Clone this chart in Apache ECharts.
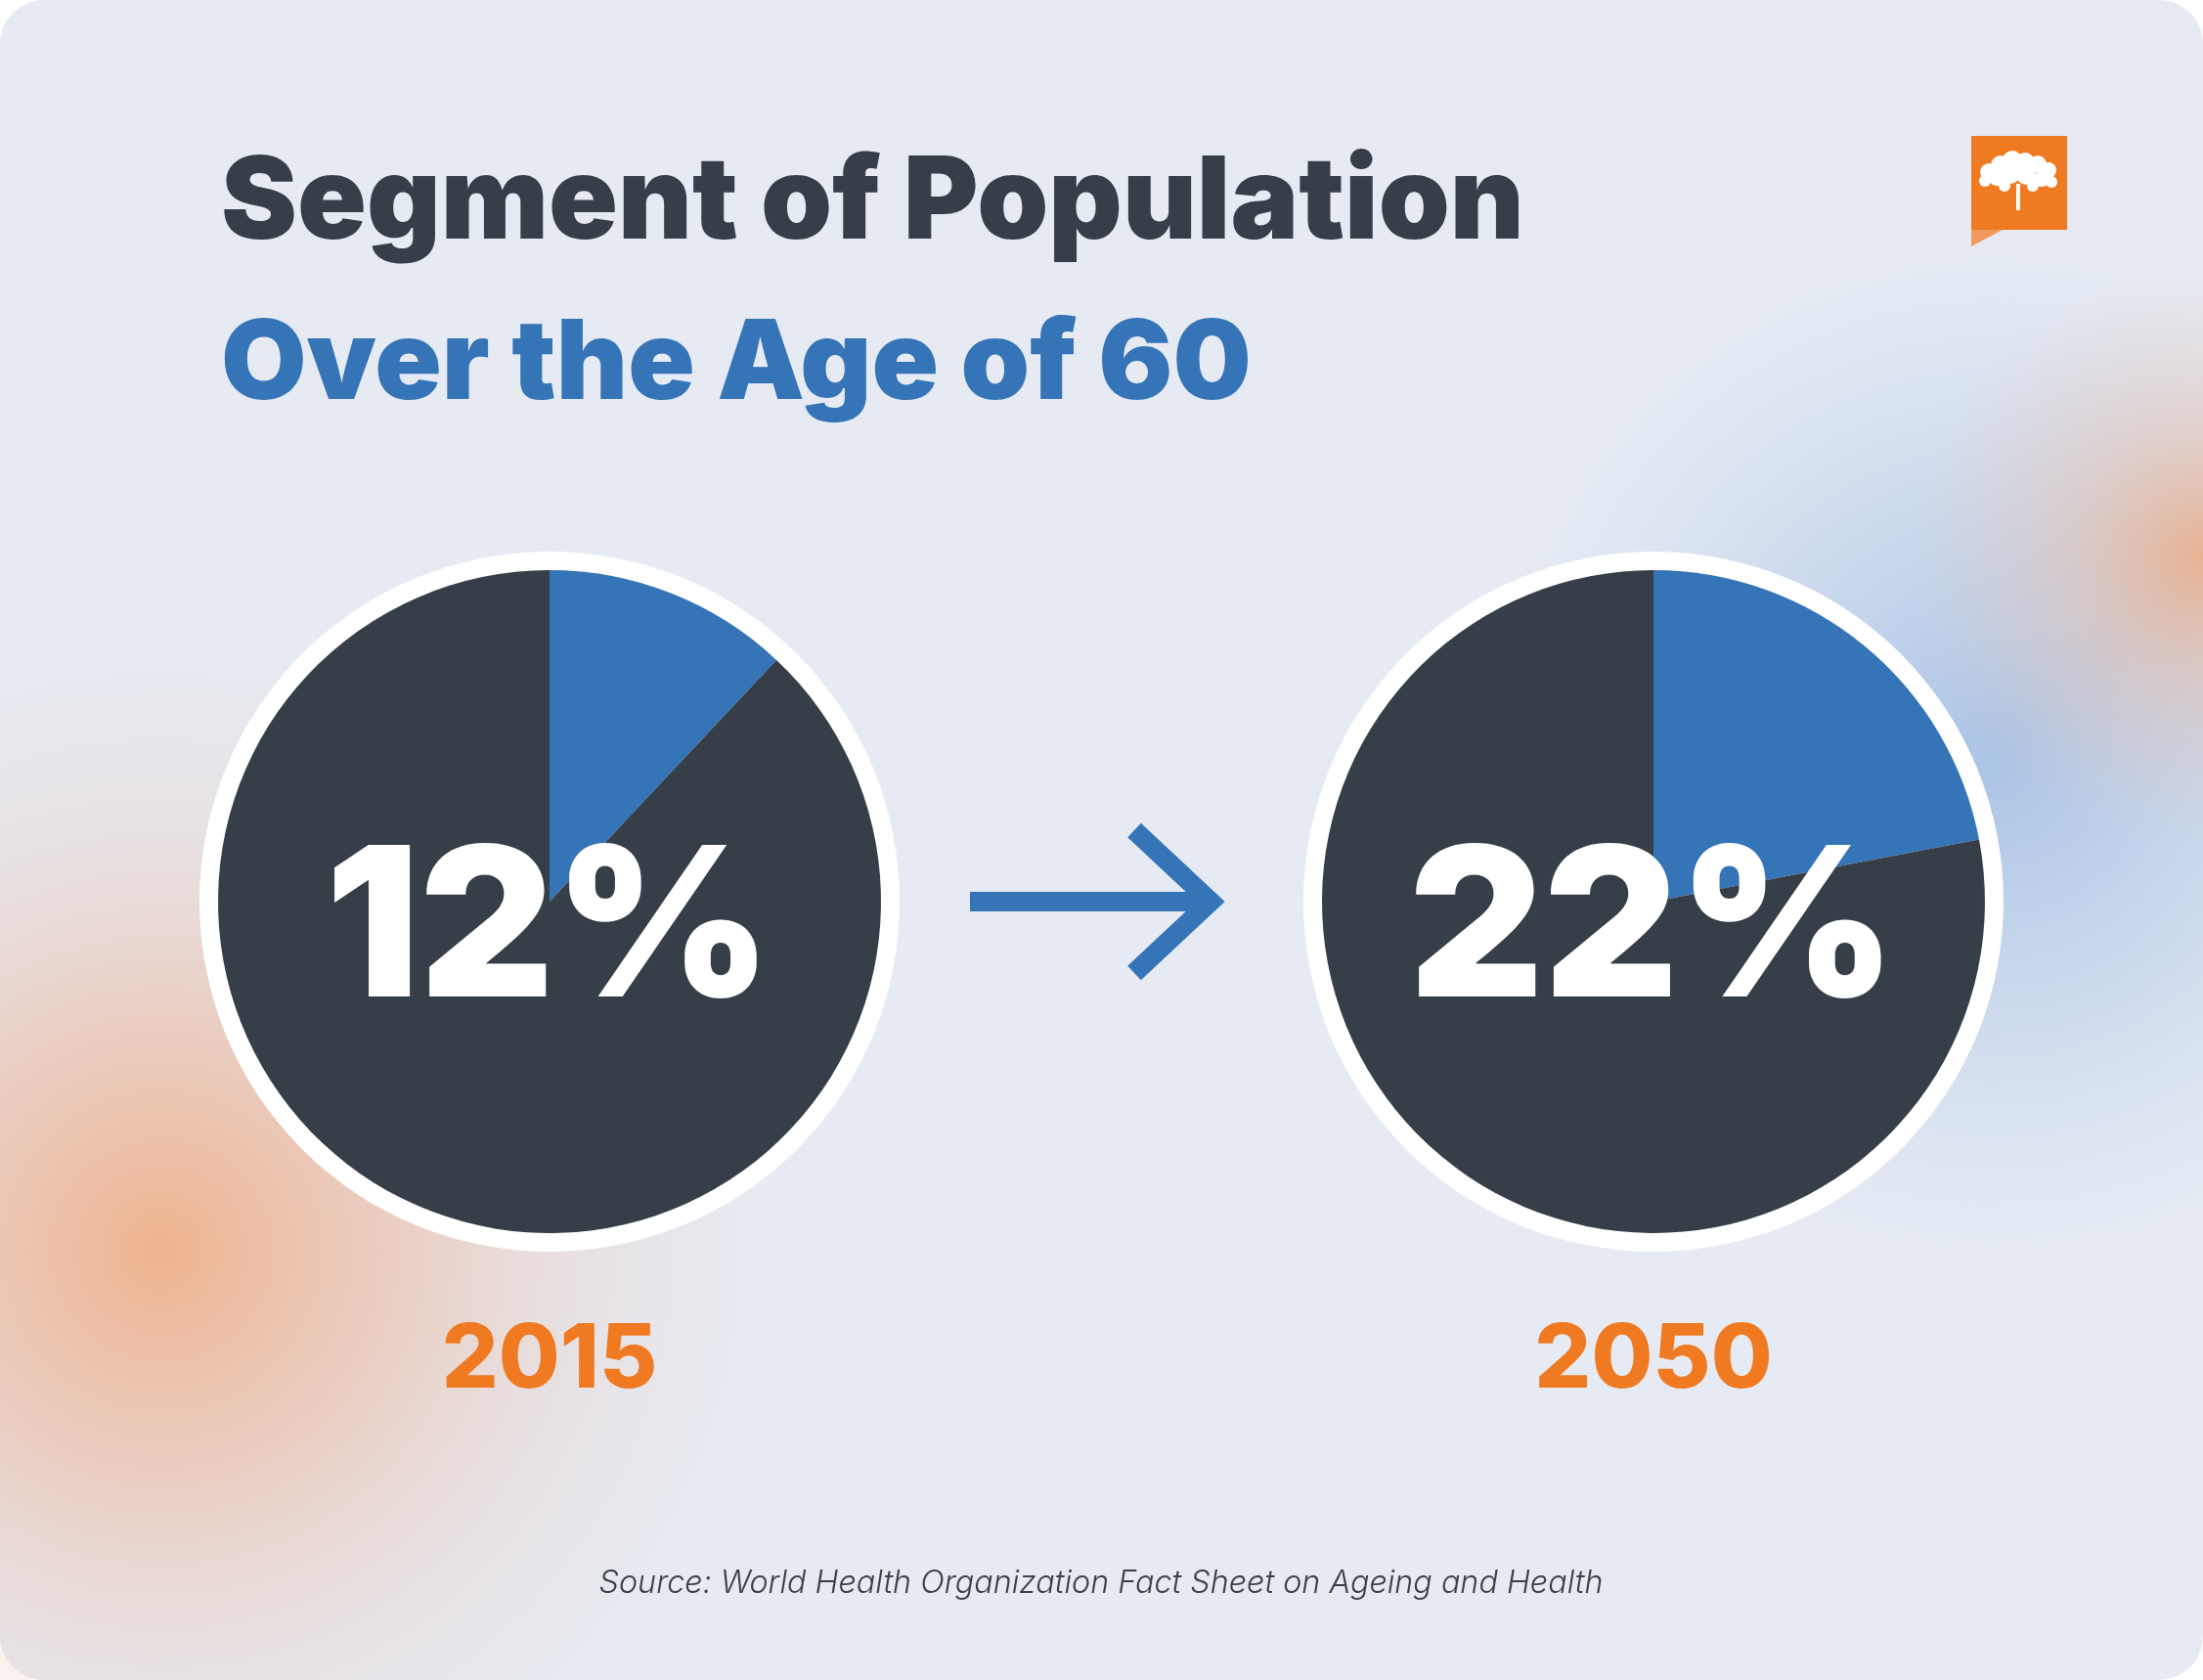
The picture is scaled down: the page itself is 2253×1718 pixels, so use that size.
<!DOCTYPE html>
<html>
<head>
<meta charset="utf-8">
<script src="https://cdn.jsdelivr.net/npm/echarts@6/dist/echarts.min.js"></script>
<style>
html,body{margin:0;padding:0;background:#ffffff;}
#chart{width:2253px;height:1718px;}
</style>
</head>
<body>
<div id="chart"></div>
<script>
// ---- Data ----
var titleLine1 = 'Segment of Population';
var titleLine2 = 'Over the Age of 60';
var years = ['2015', '2050'];
var over60Share = [12, 22];
var restShare = [88, 78];
var segmentNames = ['Age 60+', 'Under 60'];
var sourceText = 'Source: World Health Organization Fact Sheet on Ageing and Health';

// ---- Styles ----
var BLUE = '#3574b7';
var DARK = '#363e47';
var ORANGE = '#f07a22';
var BG = '#e6ebf3';
var FONT = 'Inter, "Open Sans", sans-serif';

var chart = echarts.init(document.getElementById('chart'), null, {renderer: 'canvas'});

var centers = [[562, 922], [1691, 922]];
var innerR = 339, outerR = 358;

var graphics = [];
// card background
graphics.push({type: 'rect', z: -100, shape: {x: 0, y: 0, width: 2253, height: 1718, r: 45}, style: {fill: BG}, silent: true});
// glows
function glowEllipse(cx, cy, rx, ry, stops) {
  graphics.push({
    type: 'ellipse', z: -90, silent: true,
    shape: {cx: cx, cy: cy, rx: rx, ry: ry},
    style: {fill: new echarts.graphic.RadialGradient(0.5, 0.5, 0.5, stops)}
  });
}
glowEllipse(165, 1279, 640, 640, [
  {offset: 0, color: 'rgba(241,170,125,0.85)'},
  {offset: 0.35, color: 'rgba(238,180,150,0.55)'},
  {offset: 0.7, color: 'rgba(235,200,185,0.25)'},
  {offset: 1, color: 'rgba(235,210,200,0)'}
]);
glowEllipse(2040, 770, 560, 520, [
  {offset: 0, color: 'rgba(150,182,225,0.75)'},
  {offset: 0.45, color: 'rgba(165,192,228,0.45)'},
  {offset: 1, color: 'rgba(185,205,232,0)'}
]);
glowEllipse(2253, 570, 300, 420, [
  {offset: 0, color: 'rgba(236,170,130,0.85)'},
  {offset: 0.45, color: 'rgba(232,188,165,0.45)'},
  {offset: 1, color: 'rgba(230,200,190,0)'}
]);

// white rings behind pies
centers.forEach(function (c) {
  graphics.push({type: 'circle', z: 1, silent: true, shape: {cx: c[0], cy: c[1], r: outerR}, style: {fill: '#ffffff'}});
});

// titles
graphics.push({type: 'text', z: 10, silent: true, x: 226, y: 209,
  style: {text: titleLine1, fill: DARK, font: '900 117px ' + FONT, textAlign: 'left', textVerticalAlign: 'middle'}});
graphics.push({type: 'text', z: 10, silent: true, x: 226, y: 374,
  style: {text: titleLine2, fill: BLUE, font: '900 113px ' + FONT, textAlign: 'left', textVerticalAlign: 'middle'}});

// big percentage labels and years
centers.forEach(function (c, i) {
  graphics.push({type: 'text', z: 20, silent: true, x: c[0] - 1, y: 955,
    style: {text: over60Share[i] + '%', fill: '#ffffff', font: '900 213px ' + FONT, textAlign: 'center', textVerticalAlign: 'middle'}});
  graphics.push({type: 'text', z: 20, silent: true, x: c[0], y: 1392,
    style: {text: years[i], fill: ORANGE, font: '800 91px ' + FONT, textAlign: 'center', textVerticalAlign: 'middle'}});
});

// arrow
graphics.push({type: 'line', z: 10, silent: true, shape: {x1: 992, y1: 922, x2: 1236, y2: 922},
  style: {stroke: BLUE, lineWidth: 20, lineCap: 'butt'}});
graphics.push({type: 'polyline', z: 10, silent: true, shape: {points: [[1160, 849], [1238, 922], [1160, 995]]},
  style: {stroke: BLUE, lineWidth: 20, lineCap: 'butt', lineJoin: 'miter', fill: null}});

// source
graphics.push({type: 'text', z: 10, silent: true, x: 1126, y: 1619,
  style: {text: sourceText, fill: '#3b4049', font: 'italic 300 32.3px ' + FONT, textAlign: 'center', textVerticalAlign: 'middle'}});

// logo
graphics.push({type: 'rect', z: 10, silent: true, shape: {x: 2016, y: 139, width: 98, height: 96}, style: {fill: ORANGE}});
graphics.push({type: 'polygon', z: 10, silent: true, shape: {points: [[2016, 235], [2048, 235], [2016, 252]]}, style: {fill: '#f29a5e'}});
// tree
graphics.push({type: 'rect', z: 11, silent: true, shape: {x: 2062, y: 188, width: 4, height: 27}, style: {fill: '#ffffff'}});
var blobs = [[2034,176,9],[2046,169,10],[2058,164,10],[2071,166,10],[2084,168,9],[2095,174,8],[2042,182,8],[2056,178,10],[2072,179,10],[2088,183,8],[2063,172,9],[2030,185,6],[2098,186,6],[2050,190,6],[2079,190,6]];
blobs.forEach(function (b) {
  graphics.push({type: 'circle', z: 11, silent: true, shape: {cx: b[0], cy: b[1], r: b[2]}, style: {fill: '#ffffff'}});
});

var series = centers.map(function (c, i) {
  return {
    type: 'pie',
    z: 5,
    center: c,
    radius: [0, innerR],
    startAngle: 90,
    clockwise: true,
    silent: true,
    animation: false,
    label: {show: false},
    labelLine: {show: false},
    emphasis: {disabled: true},
    itemStyle: {borderWidth: 0},
    data: [
      {name: segmentNames[0], value: over60Share[i], itemStyle: {color: BLUE}},
      {name: segmentNames[1], value: restShare[i], itemStyle: {color: DARK}}
    ]
  };
});

chart.setOption({
  animation: false,
  backgroundColor: 'transparent',
  graphic: {elements: graphics},
  series: series
});
</script>
</body>
</html>
